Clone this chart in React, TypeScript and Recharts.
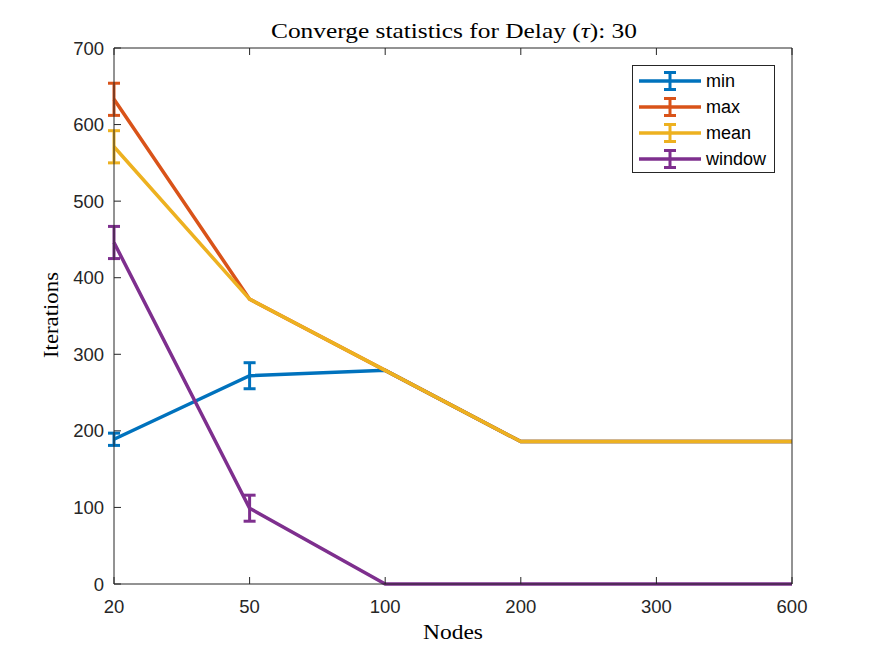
import React from "react";
import { LineChart, Line, XAxis, YAxis, ErrorBar, Legend, Label } from "recharts";

// Nodes on the x axis (equally spaced categories)
const nodes = ["20", "50", "100", "200", "300", "600"];

// Iterations per statistic
const minVals = [189, 272, 279, 186, 186, 186];
const maxVals = [633, 372, 279, 186, 186, 186];
const meanVals = [571, 372, 279, 186, 186, 186];
const windowVals = [446, 99, 0, 0, 0, 0];

// Error bar half-lengths
const minErr = [8, 17, 0, 0, 0, 0];
const maxErr = [21, 0, 0, 0, 0, 0];
const meanErr = [21, 0, 0, 0, 0, 0];
const windowErr = [21, 17, 0, 0, 0, 0];

const yTicks = [0, 100, 200, 300, 400, 500, 600, 700];

const series = [
  { key: "min", name: "min", color: "#0072BD" },
  { key: "max", name: "max", color: "#D95319" },
  { key: "mean", name: "mean", color: "#EDB120" },
  { key: "window", name: "window", color: "#7E2F8E" },
];

const data = nodes.map((n, i) => ({
  nodes: n,
  min: minVals[i],
  max: maxVals[i],
  mean: meanVals[i],
  window: windowVals[i],
  minErr: minErr[i],
  maxErr: maxErr[i],
  meanErr: meanErr[i],
  windowErr: windowErr[i],
}));

const AXIS = "#262626";
const TICK_LEN = 7;
const tickFont = { fontFamily: "'Liberation Sans', Arial, sans-serif", fontSize: 18.5, fill: AXIS };
const serif = "'Liberation Serif', 'Times New Roman', serif";

function BottomTick(props: any) {
  const { x, y, payload } = props;
  return (
    <g>
      <line x1={x} x2={x} y1={y} y2={y - TICK_LEN} stroke={AXIS} strokeWidth={1} />
      <text x={x} y={y + 29} textAnchor="middle" {...tickFont}>
        {payload.value}
      </text>
    </g>
  );
}

function LeftTick(props: any) {
  const { x, y, payload } = props;
  return (
    <g>
      <line x1={x} x2={x + TICK_LEN} y1={y} y2={y} stroke={AXIS} strokeWidth={1} />
      <text x={x - 10} y={y + 6.5} textAnchor="end" {...tickFont}>
        {payload.value}
      </text>
    </g>
  );
}

function TopTick(props: any) {
  const { x, y } = props;
  return <line x1={x} x2={x} y1={y} y2={y + TICK_LEN} stroke={AXIS} strokeWidth={1} />;
}

function RightTick(props: any) {
  const { x, y } = props;
  return <line x1={x} x2={x - TICK_LEN} y1={y} y2={y} stroke={AXIS} strokeWidth={1} />;
}

function renderLegend() {
  return (
    <div
      style={{
        boxSizing: "border-box",
        width: 143,
        height: 108,
        border: `1px solid ${AXIS}`,
        background: "#fff",
        paddingTop: 2,
      }}
    >
      {series.map((s) => (
        <div key={s.key} style={{ display: "flex", alignItems: "center", height: 26 }}>
          <svg width={62} height={26} style={{ marginLeft: 6 }}>
            <line x1={0} x2={62} y1={13} y2={13} stroke={s.color} strokeWidth={3.5} />
            <line x1={31} x2={31} y1={4.5} y2={21.5} stroke={s.color} strokeWidth={3} />
            <line x1={25} x2={37} y1={4.5} y2={4.5} stroke={s.color} strokeWidth={3} />
            <line x1={25} x2={37} y1={21.5} y2={21.5} stroke={s.color} strokeWidth={3} />
          </svg>
          <span
            style={{
              marginLeft: 5,
              fontFamily: "'Liberation Sans', Arial, sans-serif",
              fontSize: 18,
              color: "#000",
              lineHeight: "26px",
            }}
          >
            {s.name}
          </span>
        </div>
      ))}
    </div>
  );
}

export default function App() {
  return (
    <div style={{ position: "fixed", left: 0, top: 0, width: 875, height: 656, background: "#fff" }}>
      <LineChart width={875} height={656} data={data} margin={{ top: 47, right: 82, bottom: 32, left: 34 }}>
        <XAxis
          dataKey="nodes"
          scale="point"
          padding={{ left: 0, right: 0 }}
          height={40}
          interval={0}
          tickSize={0}
          tickMargin={0}
          tick={<BottomTick />}
          axisLine={{ stroke: AXIS, strokeWidth: 1 }}
        >
          <Label
            content={() => (
              <text x={453} y={639} textAnchor="middle" fontFamily={serif} fontSize={21} fill="#000" textLength={60} lengthAdjust="spacingAndGlyphs">
                Nodes
              </text>
            )}
          />
        </XAxis>
        <XAxis
          xAxisId="top"
          orientation="top"
          dataKey="nodes"
          scale="point"
          padding={{ left: 0, right: 0 }}
          height={1}
          interval={0}
          tickSize={0}
          tickMargin={0}
          tick={<TopTick />}
          axisLine={{ stroke: AXIS, strokeWidth: 1 }}
        >
          <Label
            content={() => (
              <text x={454} y={38} textAnchor="middle" fontFamily={serif} fontSize={21} fill="#000" textLength={366} lengthAdjust="spacingAndGlyphs">
                Converge statistics for Delay (<tspan fontStyle="italic">τ</tspan>):  30
              </text>
            )}
          />
        </XAxis>
        <YAxis
          type="number"
          domain={[0, 700]}
          ticks={yTicks}
          width={80}
          interval={0}
          tickSize={0}
          tickMargin={0}
          tick={<LeftTick />}
          axisLine={{ stroke: AXIS, strokeWidth: 1 }}
        >
          <Label
            content={() => (
              <text
                x={58}
                y={315}
                transform="rotate(-90 58 315)"
                textAnchor="middle"
                fontFamily={serif}
                fontSize={21}
                fill="#000"
                textLength={86}
                lengthAdjust="spacingAndGlyphs"
              >
                Iterations
              </text>
            )}
          />
        </YAxis>
        <YAxis
          yAxisId="right"
          orientation="right"
          type="number"
          domain={[0, 700]}
          ticks={yTicks}
          width={1}
          interval={0}
          tickSize={0}
          tickMargin={0}
          tick={<RightTick />}
          axisLine={{ stroke: AXIS, strokeWidth: 1 }}
        />
        <Legend
          content={renderLegend}
          layout="horizontal"
          verticalAlign="middle"
          align="center"
          wrapperStyle={{ position: "absolute", left: 632, top: 65, width: 143, height: 108 }}
        />
        {series.map((s) => (
          <Line
            key={s.key}
            type="linear"
            dataKey={s.key}
            name={s.name}
            stroke={s.color}
            strokeWidth={3.5}
            dot={false}
            activeDot={false}
            isAnimationActive={false}
          >
            <ErrorBar dataKey={`${s.key}Err`} width={6} strokeWidth={3} stroke={s.color} isAnimationActive={false} />
          </Line>
        ))}
      </LineChart>
    </div>
  );
}
